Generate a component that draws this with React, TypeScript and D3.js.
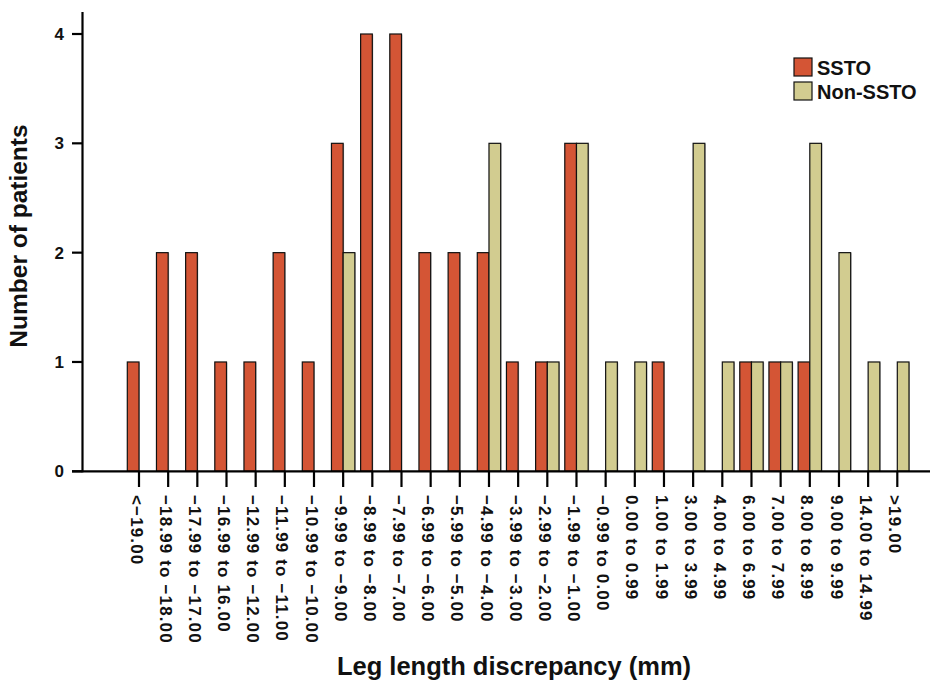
import React from "react";
import * as d3 from "d3";

const categories = [
  "<\u221219.00", "\u221218.99 to \u221218.00", "\u221217.99 to \u221217.00", "\u221216.99 to 16.00",
  "\u221212.99 to \u221212.00", "\u221211.99 to \u221211.00", "\u221210.99 to \u221210.00", "\u22129.99 to \u22129.00",
  "\u22128.99 to \u22128.00", "\u22127.99 to \u22127.00", "\u22126.99 to \u22126.00", "\u22125.99 to \u22125.00",
  "\u22124.99 to \u22124.00", "\u22123.99 to \u22123.00", "\u22122.99 to \u22122.00", "\u22121.99 to \u22121.00",
  "\u22120.99 to 0.00", "0.00 to 0.99", "1.00 to 1.99", "3.00 to 3.99", "4.00 to 4.99",
  "6.00 to 6.99", "7.00 to 7.99", "8.00 to 8.99", "9.00 to 9.99", "14.00 to 14.99", ">19.00",
];
const ssto = [1, 2, 2, 1, 1, 2, 1, 3, 4, 4, 2, 2, 2, 1, 1, 3, 0, 0, 1, 0, 0, 1, 1, 1, 0, 0, 0];
const nonSsto = [0, 0, 0, 0, 0, 0, 0, 2, 0, 0, 0, 0, 3, 0, 1, 3, 1, 1, 0, 3, 1, 1, 1, 3, 2, 1, 1];
const seriesNames = ["SSTO", "Non-SSTO"];
const seriesColors = ["#D45535", "#D2CC90"];
const yTicks = [0, 1, 2, 3, 4];

const FONT = "'Liberation Sans', Arial, Helvetica, sans-serif";

export default function App() {
  const x = d3.scalePoint<string>().domain(categories).range([139, 897.3]);
  const sub = d3.scaleBand<string>().domain(seriesNames).range([-11.7, 11.7]).padding(0);
  const y = d3.scaleLinear().domain([0, 4]).range([471.3, 34]);
  const values = [ssto, nonSsto];
  const y0 = y(0);

  return (
    <svg width={942} height={681} style={{ position: "absolute", left: 0, top: 0, background: "#fff" }} fontFamily={FONT}>
      <rect x={0} y={0} width={942} height={681} fill="#fff" />
      {/* bars */}
      {values.map((vals, si) =>
        vals.map((v, i) => {
          if (v <= 0) return null;
          const bx = (x(categories[i]) as number) + (sub(seriesNames[si]) as number);
          const bw = sub.bandwidth();
          const by = y(v);
          return (
            <g key={`${si}-${i}`}>
              <rect x={bx + 0.5} y={by + 0.5} width={bw + 0.5} height={y0 - by} fill="#c4c4c4" />
              <rect x={bx} y={by} width={bw} height={y0 - by} fill={seriesColors[si]} stroke="#111" strokeWidth={1.2} />
            </g>
          );
        })
      )}
      {/* x axis */}
      <line x1={72} x2={930} y1={y0} y2={y0} stroke="#000" strokeWidth={2.2} />
      {categories.map((c) => (
        <g key={c}>
          <line x1={x(c)} x2={x(c)} y1={y0} y2={487} stroke="#000" strokeWidth={2.2} />
          <text
            transform={`translate(${(x(c) as number) - 2.5},495) rotate(90)`}
            dy="0.35em"
            fontSize={17}
            fontWeight="bold"
            letterSpacing={1.15}
            fill="#111"
          >
            {c}
          </text>
        </g>
      ))}
      {/* y axis */}
      <line x1={82.5} x2={82.5} y1={12} y2={y0 + 1} stroke="#000" strokeWidth={2.2} />
      {yTicks.map((t) => (
        <g key={t}>
          <line x1={72} x2={82.5} y1={y(t)} y2={y(t)} stroke="#000" strokeWidth={2.2} />
          <text x={64} y={y(t)} dy="0.36em" textAnchor="end" fontSize={17} fontWeight="bold" fill="#111">
            {t}
          </text>
        </g>
      ))}
      {/* axis titles */}
      <text x={514} y={675} textAnchor="middle" fontSize={25.5} fontWeight="bold" fill="#111">
        Leg length discrepancy (mm)
      </text>
      <text transform="translate(27,236) rotate(-90)" textAnchor="middle" fontSize={24.5} fontWeight="bold" fill="#111">
        Number of patients
      </text>
      {/* legend */}
      {seriesNames.map((s, i) => (
        <g key={s} transform={`translate(794,${58 + i * 24})`}>
          <rect x={0} y={0} width={18} height={18} fill={seriesColors[i]} stroke="#111" strokeWidth={1.2} />
          <text x={23} y={17} fontSize={20} fontWeight="bold" fill="#111">
            {s}
          </text>
        </g>
      ))}
    </svg>
  );
}
